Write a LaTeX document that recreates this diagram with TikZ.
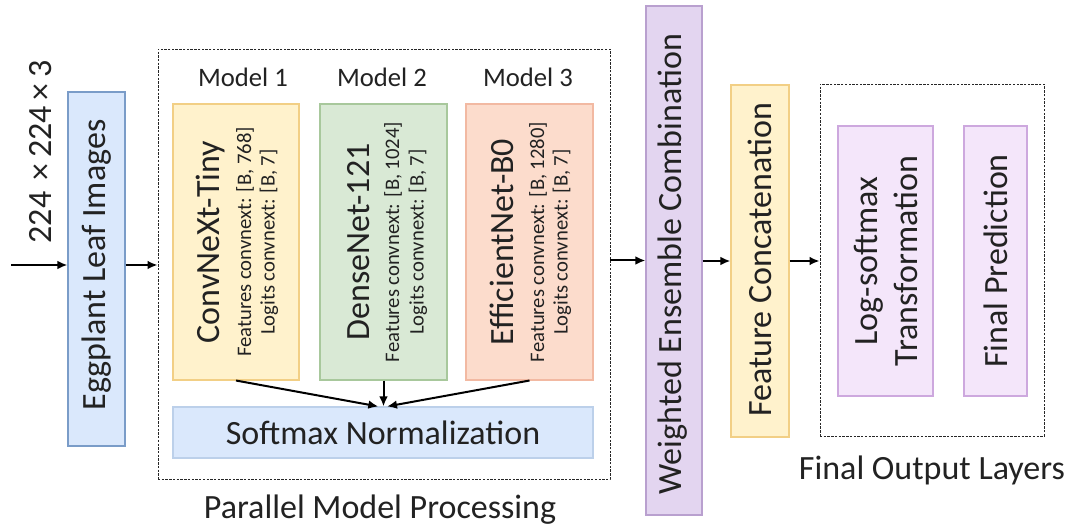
\documentclass[tikz,border=0pt]{standalone}
\usepackage{fontspec}
\setmainfont{Carlito}
\usetikzlibrary{arrows.meta,calc}

\definecolor{txt}{HTML}{222222}
\definecolor{blueF}{HTML}{DAE8FC}\definecolor{blueD}{HTML}{7A9CC8}
\definecolor{blueL}{HTML}{BCD0EA}
\definecolor{yelF}{HTML}{FFF2CC}\definecolor{yelD}{HTML}{F2CF85}
\definecolor{grnF}{HTML}{D9E9D5}\definecolor{grnD}{HTML}{A8C89C}
\definecolor{pchF}{HTML}{FCDCCC}\definecolor{pchD}{HTML}{F2B9A2}
\definecolor{purF}{HTML}{E3D5F0}\definecolor{purD}{HTML}{B9A0CF}
\definecolor{lilF}{HTML}{F4E6FA}\definecolor{lilD}{HTML}{CDA8DE}

\tikzset{
  sz/.style 2 args={minimum width=#1*0.75pt, minimum height=#2*0.75pt},
  blk/.style={draw, line width=0.8pt, inner sep=0pt, text=txt},
  grp/.style={draw=black!85, line width=0.6pt, dash pattern=on 1.8pt off 1pt, inner sep=0pt},
  big/.style={font=\fontsize{25.5}{30}\selectfont, text=txt, align=center},
  mid/.style={font=\fontsize{20}{24}\selectfont, text=txt},
  tiny/.style={font=\fontsize{15.5}{18}\selectfont, text=txt},
  vert/.style={rotate=90},
  flow/.style={line width=1.5pt, -{Latex[length=7.5pt,width=6.5pt]}},
}

\begin{document}
\begin{tikzpicture}[x=0.75pt, y=-0.75pt]
\useasboundingbox (0,0) rectangle (1071,530);

% input stage
\node[blk, draw=blueD, fill=blueF, sz={57}{354}] (img) at (96.5,269) {};
\node[big, vert] (imgt) at (97,265) {Eggplant Leaf Images};
\node[big, vert] (dims) at (41,152) {224\,\,×\,224\,×\,3};
\coordinate (in) at (11,265);

% parallel model processing group
\node[grp, sz={452}{430}] (par) at (384,264) {};
\node[big] (parl) at (380,510) {Parallel Model Processing};

\node[mid] (h1) at (243,77) {Model 1};
\node[mid] (h2) at (382,77) {Model 2};
\node[mid] (h3) at (528,77) {Model 3};

\node[blk, draw=yelD, fill=yelF, sz={126}{276}] (m1) at (236,242) {};
\node[big, vert] (m1a) at (211,242) {ConvNeXt-Tiny};
\node[tiny, vert] (m1b) at (245,242) {Features convnext: [B, 768]};
\node[tiny, vert] (m1c) at (269,242) {Logits convnext: [B, 7]};

\node[blk, draw=grnD, fill=grnF, sz={127}{276}] (m2) at (383.5,242) {};
\node[big, vert] (m2a) at (359,242) {DenseNet-121};
\node[tiny, vert] (m2b) at (393,242) {Features convnext: [B, 1024]};
\node[tiny, vert] (m2c) at (418,242) {Logits convnext: [B, 7]};

\node[blk, draw=pchD, fill=pchF, sz={127}{276}] (m3) at (529.5,242) {};
\node[big, vert] (m3a) at (502,242) {EfficientNet-B0};
\node[tiny, vert] (m3b) at (538,242) {Features convnext: [B, 1280]};
\node[tiny, vert] (m3c) at (562,242) {Logits convnext: [B, 7]};

\node[blk, draw=blueL, fill=blueF, sz={420}{51}, big] (sm) at (383,432.5) {Softmax Normalization};

% ensemble and concatenation
\node[blk, draw=purD, fill=purF, sz={56}{509}] (wec) at (674,260.5) {};
\node[big, vert] (wect) at (673,264) {Weighted Ensemble Combination};

\node[blk, draw=yelD, fill=yelF, sz={58}{352}] (fc) at (760,261) {};
\node[big, vert] (fct) at (760,260) {Feature Concatenation};

% final output layers group
\node[grp, sz={224}{352}] (fol) at (932,260) {};
\node[big] (foll) at (932,470) {Final Output Layers};

\node[blk, draw=lilD, fill=lilF, sz={95}{270}] (ls) at (885.5,261) {};
\node[big, vert] (lst) at (885.5,261) {Log-softmax\\Transformation};

\node[blk, draw=lilD, fill=lilF, sz={63}{270}] (fp) at (995.5,261) {};
\node[big, vert] (fpt) at (995.5,261) {Final Prediction};

% connectors
\draw[flow] (in) -- (in -| img.west);
\draw[flow] (img.east |- in) -- (in -| par.west);
\draw[flow] (m1.south) -- ([xshift=-3.5pt]sm.north);
\draw[flow] (m2.south) -- (sm.north -| m2.south);
\draw[flow] (m3.south) -- ([xshift=3pt]sm.north);
\draw[flow] (wec.west -| par.east) -- (wec.west);
\draw[flow] (fc.west -| wec.east) -- (fc.west);
\draw[flow] (fc.east) -- (fc.east -| fol.west);
\end{tikzpicture}
\end{document}
